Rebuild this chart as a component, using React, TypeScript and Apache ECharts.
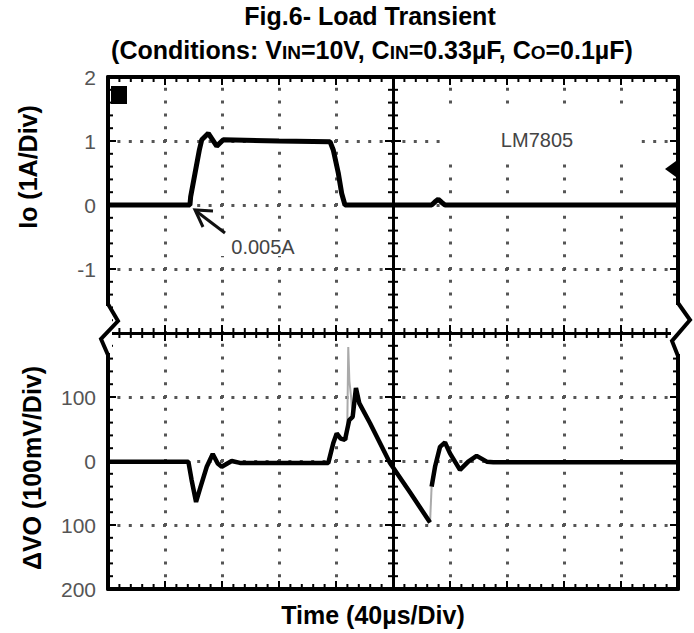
import React, { useEffect, useRef } from 'react';
import * as echarts from 'echarts';

const FONT = '"Liberation Sans", Arial, Helvetica, sans-serif';

// Time axis: µs, trigger at screen centre, 40 µs / div, 10 divisions, 5 minor steps per div
const timeMin = -200;
const timeMax = 200;
const timeStep = 40;
const minorPerDiv = 5;

// Upper trace: output current Io (A), 1 A / div
const ioMin = -2;
const ioMax = 2;
const ioStep = 1;
const ioTicks = [-2, -1, 0, 1, 2];
const ioTickLabels = ['', '-1', '0', '1', '2'];
const ioTime = [-200, -142.5, -142.0, -138.9, -135.9, -134.2, -129.6, -123.7, -119.1, -80, -44.2, -41.9, -38.4, -36.0, -33.7, 27.1, 29.5, 31.8, 34.2, 36.5, 200];
const ioAmps = [0, 0, 0.13, 0.5, 0.86, 1.02, 1.12, 0.92, 1.02, 1.0, 0.99, 0.86, 0.5, 0.18, 0, 0, 0.05, 0.09, 0.04, 0, 0];

// Lower trace: output voltage deviation ΔVO (mV), 100 mV / div
const dvMin = -200;
const dvMax = 200;
const dvStep = 100;
const dvTicks = [-200, -100, 0, 100, 200];
const dvTickLabels = ['200', '100', '0', '100', ''];
const dvTime = [-200, -143.6, -141.3, -138.2, -135, -130.7, -126.5, -123, -120.2, -113.2, -107.4, -45.4, -41.9, -39.5, -36.7, -33.7, -30.7, -28.3, -26, -23.6, -16.1, -2.1, 11.9, 26, 27.1, 29.5, 33, 36.5, 40, 47, 52.8, 58.7, 65.8, 70.4, 200];
const dvMv = [-1, -1, -30, -64, -40, -9, 11, -4, -9, 0, -3, -3, 28, 43, 35, 33, 64, 69, 114, 90, 59, -3, -49, -96, -40, -9, 22, 29, 12, -14, -1, 8, -1, -2, -2];
const dvBreakIndex = 24;

// Faint (fast) parts of the lower trace
const spikeTime = [-32.2, -31.4, -30.6, -29.4, -28.3];
const spikeMv = [33, 178, 125, 100, 69];
const recoveryTime = [26, 27.1];
const recoveryMv = [-96, -40];

const zip = (xs: number[], ys: number[]) => xs.map((x, i) => [x, ys[i]]);

const labelFor = (ticks: number[], labels: string[]) => (v: number) => {
  const i = ticks.findIndex((t) => Math.abs(t - v) < 1e-6);
  return i >= 0 ? labels[i] : '';
};

// graticule positions (every minor division) derived from the axis ranges
const graticule = (min: number, max: number, step: number) => {
  const n = Math.round((max - min) / step) * minorPerDiv;
  const out: number[] = [];
  for (let i = 0; i <= n; i++) out.push(+(min + (i * step) / minorPerDiv).toFixed(6));
  return out;
};
const isMajor = (v: number, min: number, step: number) => {
  const k = (v - min) / step;
  return Math.abs(k - Math.round(k)) < 1e-6;
};

const GRID_LEFT = 108;
const GRID_WIDTH = 570;
const GRID_HEIGHT = 256;
const MINOR_LEN = 5; // px
const MAJOR_LEN = 8; // px

export default function App() {
  const ref = useRef<HTMLDivElement>(null);

  useEffect(() => {
    if (!ref.current) return;
    const chart = echarts.init(ref.current, undefined, { renderer: 'svg' });

    const black = '#000';
    const vertDots = () => ({
      show: true,
      lineStyle: { color: '#555', width: 3, type: [3, 9.8], dashOffset: 1.5 },
    });
    const horizDots = () => ({
      show: true,
      lineStyle: { color: '#555', width: 3, type: [3, 8.4], dashOffset: 1.5 },
    });
    const line = (w: number) => ({
      show: true,
      onZero: false,
      lineStyle: { color: black, width: w },
    });

    const xAxis = (grid: number, position: string, w: number, dots: boolean) => ({
      type: 'value',
      gridIndex: grid,
      position,
      min: timeMin,
      max: timeMax,
      interval: timeStep,
      axisLine: line(w),
      axisTick: { show: false },
      minorTick: { show: false },
      axisLabel: { show: false },
      splitLine: dots ? vertDots() : { show: false },
    });

    const yAxes = (grid: number, min: number, max: number, interval: number, ticks: number[], labels: string[]) => {
      const common = () => ({
        type: 'value',
        gridIndex: grid,
        min,
        max,
        interval,
        axisTick: { show: false },
        minorTick: { show: false },
      });
      return [
        {
          ...common(),
          position: 'left',
          axisLine: line(4),
          axisLabel: { show: true, fontSize: 21, color: '#555', fontFamily: FONT, margin: 12, formatter: labelFor(ticks, labels) },
          splitLine: horizDots(),
        },
        { ...common(), position: 'right', axisLine: line(4), axisLabel: { show: false }, splitLine: { show: false } },
        // centre graticule line (axis shifted into the middle of the grid)
        { ...common(), position: 'left', offset: -GRID_WIDTH / 2, axisLine: line(3), axisLabel: { show: false }, splitLine: { show: false } },
      ];
    };

    const trace = (name: string, yIdx: number, xIdx: number, data: number[][], w: number, color: string, z: number) => ({
      type: 'line',
      name,
      xAxisIndex: xIdx,
      yAxisIndex: yIdx,
      data,
      symbol: 'none',
      silent: true,
      lineStyle: { color, width: w },
      z,
    });

    const txt = (text: string, x: number, y: number, size: number, opts: any = {}) => ({
      type: 'text',
      z: 100,
      x,
      y,
      rotation: opts.rotation || 0,
      style: {
        text,
        fontSize: size,
        fontWeight: opts.bold ? 'bold' : 'normal',
        fontFamily: FONT,
        fill: opts.color || black,
        align: 'center',
        verticalAlign: 'middle',
      },
    });

    const option: any = {
      animation: false,
      backgroundColor: '#fff',
      title: [
        {
          text: 'Fig.6- Load Transient',
          left: 370,
          top: 3,
          padding: 0,
          textAlign: 'center',
          textStyle: { fontSize: 25, fontWeight: 'bold', color: black, fontFamily: FONT },
        },
        {
          text: '{n|(Conditions: V}{s|IN}{n|=10V, C}{s|IN}{n|=0.33µF, C}{s|O}{n|=0.1µF)}',
          left: 372,
          top: 34,
          padding: 0,
          textAlign: 'center',
          textStyle: {
            fontSize: 25,
            fontWeight: 'bold',
            color: black,
            fontFamily: FONT,
            rich: {
              n: { fontSize: 25, fontWeight: 'bold', color: black, fontFamily: FONT, verticalAlign: 'bottom', lineHeight: 28 },
              s: { fontSize: 19, fontWeight: 'bold', color: black, fontFamily: FONT, verticalAlign: 'bottom', lineHeight: 28 },
            },
          },
        },
      ],
      grid: [
        { left: GRID_LEFT, top: 77, width: GRID_WIDTH, height: GRID_HEIGHT, containLabel: false },
        { left: GRID_LEFT, top: 333, width: GRID_WIDTH, height: GRID_HEIGHT, containLabel: false },
      ],
      xAxis: [
        xAxis(0, 'top', 4, true),
        xAxis(0, 'bottom', 3, false),
        xAxis(1, 'bottom', 4, true),
      ],
      yAxis: [
        ...yAxes(0, ioMin, ioMax, ioStep, ioTicks, ioTickLabels),
        ...yAxes(1, dvMin, dvMax, dvStep, dvTicks, dvTickLabels),
      ],
      series: [
        trace('Io', 0, 0, zip(ioTime, ioAmps), 5, black, 5),
        trace('ΔVO', 3, 2, zip(dvTime.slice(0, dvBreakIndex), dvMv.slice(0, dvBreakIndex)), 4.5, black, 5),
        trace('ΔVO recovery', 3, 2, zip(dvTime.slice(dvBreakIndex), dvMv.slice(dvBreakIndex)), 4.5, black, 5),
        trace('spike', 3, 2, zip(spikeTime, spikeMv), 2, '#aaaaaa', 4),
        trace('jump', 3, 2, zip(recoveryTime, recoveryMv), 2, '#aaaaaa', 4),
      ],
    };

    chart.setOption(option);

    // graticule tick marks, placed through the chart's own scales
    const f0 = { xAxisIndex: 0, yAxisIndex: 0 };
    const f1 = { xAxisIndex: 2, yAxisIndex: 3 };
    const px = (finder: any, x: number, y: number) => chart.convertToPixel(finder, [x, y]) as number[];
    const ticks: any[] = [];
    const seg = (x1: number, y1: number, x2: number, y2: number) =>
      ticks.push({ type: 'line', z: 60, shape: { x1, y1, x2, y2 }, style: { stroke: black, lineWidth: 2 } });

    graticule(timeMin, timeMax, timeStep).forEach((t) => {
      const L = isMajor(t, timeMin, timeStep) ? MAJOR_LEN : MINOR_LEN;
      const top = px(f0, t, ioMax);
      seg(top[0], top[1], top[0], top[1] + L);
      const mid = px(f0, t, ioMin);
      seg(mid[0], mid[1] - L, mid[0], mid[1] + L);
      const bot = px(f1, t, dvMin);
      seg(bot[0], bot[1] - L, bot[0], bot[1]);
    });
    const ampTicks = (finder: any, min: number, max: number, step: number) => {
      graticule(min, max, step).forEach((v) => {
        const L = isMajor(v, min, step) ? MAJOR_LEN : MINOR_LEN;
        const l = px(finder, timeMin, v);
        seg(l[0], l[1], l[0] + L, l[1]);
        const r = px(finder, timeMax, v);
        seg(r[0] - L, r[1], r[0], r[1]);
        const m = px(finder, 0, v);
        seg(m[0] - L, m[1], m[0] + L, m[1]);
      });
    };
    ampTicks(f0, ioMin, ioMax, ioStep);
    ampTicks(f1, dvMin, dvMax, dvStep);

    chart.setOption({
      graphic: [
        { type: 'group', children: ticks },
        // blanked areas behind the on-screen labels
        { type: 'rect', z: 50, shape: { x: 443, y: 111, width: 194, height: 48 }, style: { fill: '#fff' } },
        { type: 'rect', z: 50, shape: { x: 219, y: 238, width: 79, height: 18 }, style: { fill: '#fff' } },
        // axis break marks
        { type: 'rect', z: 100, shape: { x: 102, y: 306, width: 10, height: 47 }, style: { fill: '#fff' } },
        { type: 'rect', z: 100, shape: { x: 671, y: 305, width: 11, height: 49 }, style: { fill: '#fff' } },
        {
          type: 'polyline',
          z: 101,
          shape: { points: [[108, 304], [118, 321], [101, 339], [108, 355]] },
          style: { stroke: black, lineWidth: 4, fill: 'none' },
        },
        {
          type: 'polyline',
          z: 101,
          shape: { points: [[678, 303], [690, 320], [672, 341], [678, 356]] },
          style: { stroke: black, lineWidth: 4, fill: 'none' },
        },
        // channel / trigger markers
        { type: 'rect', z: 100, shape: { x: 111, y: 86, width: 16, height: 18 }, style: { fill: black } },
        { type: 'polygon', z: 100, shape: { points: [[665, 169], [676, 161], [676, 177]] }, style: { fill: black } },
        // annotation arrow
        { type: 'polyline', z: 100, shape: { points: [[225, 233], [196, 211]] }, style: { stroke: '#111', lineWidth: 3, fill: 'none' } },
        { type: 'polyline', z: 100, shape: { points: [[213, 211], [195, 210], [203, 227]] }, style: { stroke: '#111', lineWidth: 3, fill: 'none' } },
        txt('0.005A', 263, 247, 20, { color: '#444' }),
        txt('LM7805', 537, 140, 20, { color: '#444' }),
        // axis titles
        txt('Io (1A/Div)', 28, 167, 25, { bold: true, rotation: Math.PI / 2 }),
        txt('ΔVO (100mV/Div)', 32, 468, 25, { bold: true, rotation: Math.PI / 2 }),
        txt('Time (40µs/Div)', 373, 615, 25, { bold: true }),
      ],
    });

    return () => chart.dispose();
  }, []);

  return (
    <div
      ref={ref}
      style={{ position: 'fixed', left: 0, top: 0, width: 694, height: 633, background: '#fff' }}
    />
  );
}
